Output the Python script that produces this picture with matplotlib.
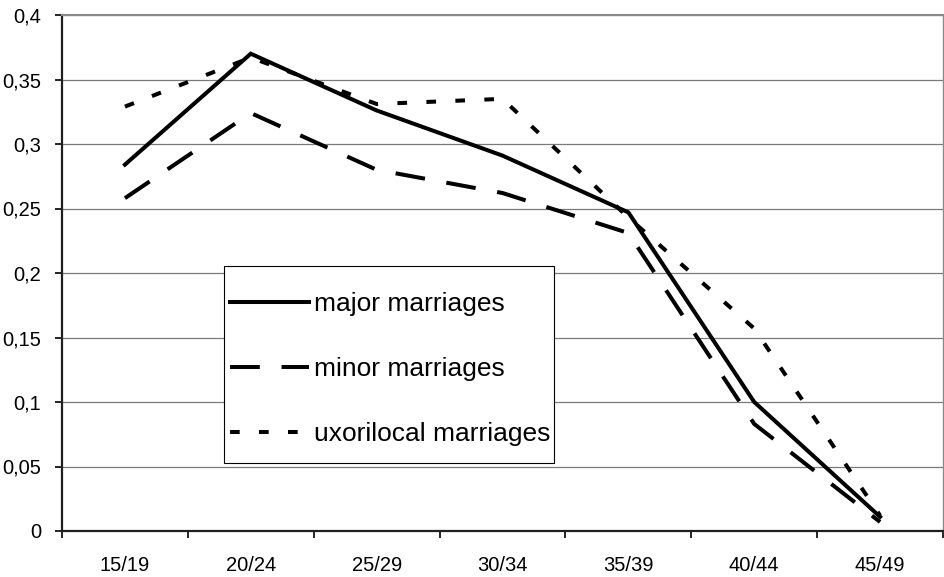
import matplotlib
matplotlib.use("Agg")
import matplotlib.pyplot as plt
from matplotlib.patches import Rectangle
from matplotlib.ticker import FixedLocator, FuncFormatter

# age groups of the wife at marriage and the share of each marriage form
age_groups = ["15/19", "20/24", "25/29", "30/34", "35/39", "40/44", "45/49"]
major = [0.284, 0.370, 0.326, 0.291, 0.247, 0.100, 0.011]
minor = [0.258, 0.324, 0.280, 0.262, 0.231, 0.083, 0.007]
uxorilocal = [0.329, 0.367, 0.331, 0.335, 0.243, 0.157, 0.012]

y_ticks = [0, 0.05, 0.1, 0.15, 0.2, 0.25, 0.3, 0.35, 0.4]

plt.rcParams["font.family"] = ["Liberation Sans", "DejaVu Sans"]

fig = plt.figure(figsize=(9.44, 5.77), dpi=100)
ax = fig.add_axes([62 / 944, 1 - 531 / 577, 881 / 944, 516 / 577])

x = list(range(len(age_groups)))
lw = 2.9
ax.plot(x, major, color="black", lw=lw, solid_joinstyle="miter",
        label="major marriages")
ax.plot(x, minor, color="black", lw=lw, linestyle=(0, (7.4, 5.4)),
        label="minor marriages")
ax.plot(x, uxorilocal, color="black", lw=lw, linestyle=(0, (2.4, 4.8)),
        label="uxorilocal marriages")

ax.set_xlim(-0.5, len(age_groups) - 0.5)
ax.set_ylim(0, 0.4)

# category boundaries carry the tick marks, names sit in between
ax.xaxis.set_major_locator(FixedLocator([i - 0.5 for i in range(len(age_groups) + 1)]))
ax.xaxis.set_major_formatter(FuncFormatter(lambda v, p: ""))
ax.xaxis.set_minor_locator(FixedLocator(x))
ax.set_xticklabels(age_groups, minor=True)
ax.tick_params(axis="x", which="major", direction="out", length=5, width=1.2,
               color="black")
ax.tick_params(axis="x", which="minor", length=0, pad=18, labelsize=14.5)

ax.yaxis.set_major_locator(FixedLocator(y_ticks))
ax.yaxis.set_major_formatter(FuncFormatter(lambda v, p: f"{v:g}".replace(".", ",")))
ax.tick_params(axis="y", direction="out", length=5, width=1.2, color="black",
               pad=10, labelsize=14.5)

ax.grid(axis="y", color="#7a7a7a", lw=0.9)
ax.set_axisbelow(True)
for side in ("left", "bottom"):
    ax.spines[side].set_color("#202020")
    ax.spines[side].set_linewidth(1.6)
ax.spines["top"].set_color("#8a8a8a")
ax.spines["top"].set_linewidth(1.5)
ax.spines["right"].set_color("#8a8a8a")
ax.spines["right"].set_linewidth(1.0)

# white legend box drawn separately so the padding can be set freely
box = Rectangle((0.184, 0.1318), 0.374, 0.3818, transform=ax.transAxes,
                facecolor="white", edgecolor="black", lw=0.8, zorder=4)
ax.add_patch(box)
leg = ax.legend(loc="center left", bbox_to_anchor=(0.1907, 0.314),
                frameon=False, fontsize=19, handlelength=3.0,
                handletextpad=0.2, borderpad=0, borderaxespad=0,
                labelspacing=1.56)
leg.set_zorder(5)

fig.savefig("out.png", dpi=100)
